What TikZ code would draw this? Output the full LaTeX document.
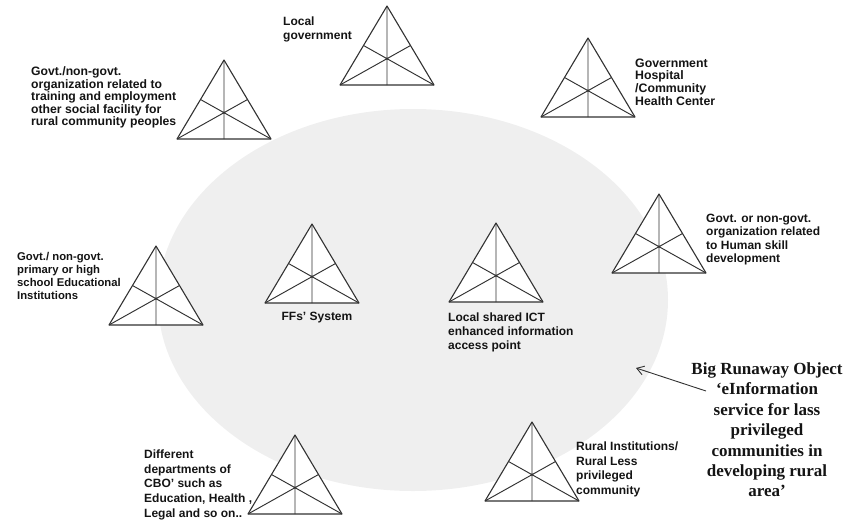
\documentclass[tikz,border=0pt]{standalone}
\usepackage{fontspec}
\setmainfont{Liberation Serif}
\newfontfamily\labelfont{Liberation Sans}
\usetikzlibrary{shapes.geometric,arrows.meta}
\definecolor{fieldgray}{RGB}{239,239,239}
\definecolor{edgegray}{RGB}{50,50,50}
\definecolor{inkblack}{RGB}{20,20,20}

\tikzset{
  % actor triangle with its three medians; origin at the apex
  tri/.pic={
    \filldraw[fill=white, draw=edgegray, line width=1.1pt, line join=round]
      (0,0) coordinate (-apex) -- (-47,79) coordinate (-left)
      -- (47,79) coordinate (-right) -- cycle;
    \draw[edgegray, line width=0.95pt]
      (0,0) -- (0,79)
      (-47,79) -- (23.5,39.5)
      (47,79) -- (-23.5,39.5);
  },
  agent/.style 2 args={font=\labelfont\bfseries\fontsize{#1}{#2}\selectfont,
    text=inkblack, align=left, inner sep=0pt, anchor=north west},
  runaway/.style={font=\bfseries\fontsize{17}{20.4}\selectfont,
    text=inkblack, align=center, inner sep=0pt, anchor=north},
  pointer/.style={draw=edgegray, line width=0.9pt,
    -{Straight Barb[length=7pt,width=9pt,line width=0.9pt]}},
}

\begin{document}
\begin{tikzpicture}[x=1pt,y=-1pt]
\useasboundingbox (0,0) rectangle (846,520);

% shared activity field
\node[ellipse, fill=fieldgray, inner sep=0pt,
      minimum width=510pt, minimum height=382pt] (field) at (413,300) {};

% actors
\pic (lg)    at (387,6)   {tri};
\pic (train) at (224,60)  {tri};
\pic (hosp)  at (588,38)  {tri};
\pic (skill) at (659,194) {tri};
\pic (edu)   at (156,246) {tri};
\pic (ffs)   at (312,224) {tri};
\pic (ict)   at (496,223) {tri};
\pic (cbo)   at (295,435) {tri};
\pic (rural) at (532,422) {tri};

% actor labels
\node[agent={12}{14.5}] (lglab) at (283,16.5) {Local\\government};
\node[agent={12.2}{12.6}] (trainlab) at (31,66.5)
  {Govt./non-govt.\\organization related to\\training and  employment\\other social facility for\\rural community  peoples};
\node[agent={12.3}{12.6}] (hosplab) at (635,58.5)
  {Government\\Hospital\\/Community\\Health Center};
\node[agent={12}{13.6}] (skilllab) at (706,213.5)
  {Govt.  or non-govt.\\organization related\\to Human skill\\development};
\node[agent={11.3}{13}] (edulab) at (17,252.5)
  {Govt./ non-govt.\\primary or high\\school  Educational\\Institutions};
\node[font=\labelfont\bfseries\fontsize{12}{14}\selectfont, text=inkblack,
      inner sep=0pt, anchor=base] (ffslab) at (317,320.5) {FFs’  System};
\node[agent={12}{14}] (ictlab) at (448,312.5)
  {Local shared ICT\\enhanced information\\access  point};
\node[agent={12}{14.7}] (cbolab) at (144,449.5)
  {Different\\departments of\\CBO’ such  as\\Education, Health ,\\Legal and so  on..};
\node[agent={12}{14.7}] (rurallab) at (576,441.5)
  {Rural Institutions/\\Rural Less\\privileged\\community};

% the runaway object and its pointer into the field
\node[runaway] (object) at (767,362.5)
  {Big Runaway Object\\‘eInformation\\service for lass\\privileged\\communities in\\developing  rural\\area’};
\coordinate (tail) at (706,391);
\coordinate (tip)  at (636,368);
\draw[pointer] (tail) -- (tip);
\end{tikzpicture}
\end{document}
